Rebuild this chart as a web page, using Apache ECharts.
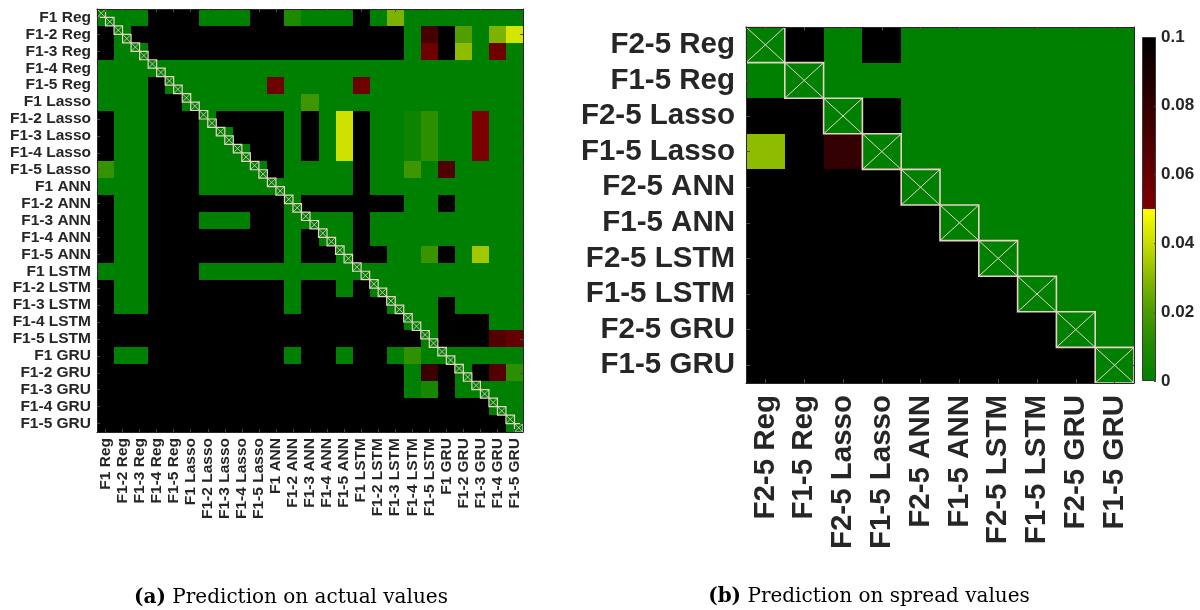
<!DOCTYPE html>
<html>
<head>
<meta charset="utf-8">
<script src="https://cdn.jsdelivr.net/npm/echarts@6.0.0/dist/echarts.min.js"></script>
<style>html,body{margin:0;padding:0;background:#fff}#c{width:1200px;height:610px}</style>
</head>
<body>
<div id="c"></div>
<script>
// ---- data ----
const leftCategories = ['F1 Reg','F1-2 Reg','F1-3 Reg','F1-4 Reg','F1-5 Reg',
  'F1 Lasso','F1-2 Lasso','F1-3 Lasso','F1-4 Lasso','F1-5 Lasso',
  'F1 ANN','F1-2 ANN','F1-3 ANN','F1-4 ANN','F1-5 ANN',
  'F1 LSTM','F1-2 LSTM','F1-3 LSTM','F1-4 LSTM','F1-5 LSTM',
  'F1 GRU','F1-2 GRU','F1-3 GRU','F1-4 GRU','F1-5 GRU'];
const rightCategories = ['F2-5 Reg','F1-5 Reg','F2-5 Lasso','F1-5 Lasso','F2-5 ANN',
  'F1-5 ANN','F2-5 LSTM','F1-5 LSTM','F2-5 GRU','F1-5 GRU'];
// p-values (0.1 = at or above the colour-scale maximum, drawn black)
const leftValues = [
 [0,0,0,.1,.1,.1,0,0,0,.1,.1,.01,0,0,0,.1,0,.028,0,0,0,0,0,0,0],
 [.1,0,.1,.1,.1,.1,.1,.1,.1,.1,.1,.1,.1,.1,.1,.1,.1,.1,0,.073,.1,.021,0,.028,.042],
 [.1,0,0,.1,.1,.1,.1,.1,.1,.1,.1,.1,.1,.1,.1,.1,.1,.1,0,.057,.1,.031,0,.057,0],
 [0,0,0,0,0,0,0,0,0,0,0,0,0,0,0,0,0,0,0,0,0,0,0,0,0],
 [0,0,0,.1,0,0,0,0,0,0,.057,0,0,0,0,.057,0,0,0,0,0,0,0,0,0],
 [0,0,0,.1,.1,0,0,0,0,0,0,0,.017,0,0,0,0,0,0,0,0,0,0,0,0],
 [.1,0,0,.1,.1,.1,0,.1,.1,.1,.1,0,.1,0,.041,.1,0,0,.004,.013,0,0,.052,0,0],
 [.1,0,0,.1,.1,.1,0,0,.1,.1,.1,0,.1,0,.041,.1,0,0,.004,.013,0,0,.052,0,0],
 [.1,0,0,.1,.1,.1,0,0,0,.1,.1,0,.1,0,.041,.1,0,0,.004,.013,0,0,.052,0,0],
 [.015,0,0,.1,.1,.1,0,0,0,0,.1,0,0,0,0,.1,0,0,.017,0,.069,0,0,0,0],
 [0,0,0,.1,.1,.1,0,0,0,0,0,0,0,0,0,.1,0,0,0,0,0,0,0,0,0],
 [.1,0,0,.1,.1,.1,.1,.1,.1,.1,.1,0,.1,.1,.1,.1,.1,.1,0,0,.1,0,0,0,0],
 [.1,0,0,.1,.1,.1,0,0,0,.1,.1,0,0,0,0,.1,0,0,0,0,0,0,0,0,0],
 [.1,0,0,.1,.1,.1,.1,.1,.1,.1,.1,0,.1,0,0,.1,0,0,0,0,0,0,0,0,0],
 [.1,0,0,.1,.1,.1,.1,.1,.1,.1,.1,0,.1,.1,0,.1,.1,0,0,.016,.1,0,.034,0,0],
 [0,0,0,.1,.1,.1,0,0,0,0,0,0,0,0,0,0,0,0,0,0,0,0,0,0,0],
 [.1,0,0,.1,.1,.1,.1,.1,.1,.1,.1,0,.1,.1,0,.1,0,0,0,0,0,0,0,0,0],
 [.1,0,0,.1,.1,.1,.1,.1,.1,.1,.1,0,.1,.1,.1,.1,.1,0,0,0,.1,0,0,0,0],
 [.1,.1,.1,.1,.1,.1,.1,.1,.1,.1,.1,.1,.1,.1,.1,.1,.1,.1,0,0,.1,.1,.1,0,0],
 [.1,.1,.1,.1,.1,.1,.1,.1,.1,.1,.1,.1,.1,.1,.1,.1,.1,.1,.1,0,.1,.1,.1,.067,.061],
 [.1,0,0,.1,.1,.1,.1,.1,.1,.1,.1,0,.1,.1,0,.1,.1,0,.014,0,0,0,0,0,0],
 [.1,.1,.1,.1,.1,.1,.1,.1,.1,.1,.1,.1,.1,.1,.1,.1,.1,.1,0,.077,.1,0,.1,.067,.013],
 [.1,.1,.1,.1,.1,.1,.1,.1,.1,.1,.1,.1,.1,.1,.1,.1,.1,.1,0,.007,.1,0,0,0,0],
 [.1,.1,.1,.1,.1,.1,.1,.1,.1,.1,.1,.1,.1,.1,.1,.1,.1,.1,.1,.1,.1,.1,.1,0,0],
 [.1,.1,.1,.1,.1,.1,.1,.1,.1,.1,.1,.1,.1,.1,.1,.1,.1,.1,.1,.1,.1,.1,.1,.1,0]
];
const rightValues = [
 [0,.1,0,.1,0,0,0,0,0,0],
 [0,0,0,0,0,0,0,0,0,0],
 [.1,.1,0,.1,0,0,0,0,0,0],
 [.031,.1,.08,0,0,0,0,0,0,0],
 [.1,.1,.1,.1,0,0,0,0,0,0],
 [.1,.1,.1,.1,.1,0,0,0,0,0],
 [.1,.1,.1,.1,.1,.1,0,0,0,0],
 [.1,.1,.1,.1,.1,.1,.1,0,0,0],
 [.1,.1,.1,.1,.1,.1,.1,.1,0,0],
 [.1,.1,.1,.1,.1,.1,.1,.1,.1,0]
];
const scaleMin = 0, scaleMax = 0.1, scaleStep = 0.02;
const captionA = 'Prediction on actual values';
const captionB = 'Prediction on spread values';

// ---- colour map (green -> yellow up to 0.05, dark red -> black above) ----
const gyStops = [[0,[0,128,0]],[0.01,[30,138,0]],[0.02,[75,155,0]],[0.03,[135,185,0]],[0.04,[200,222,0]],[0.05,[255,255,0]]];
function rgb(a){return 'rgb('+a.map(v=>Math.round(v)).join(',')+')';}
function colorAt(v){
  if (v <= 0.05) {
    for (let i=1;i<gyStops.length;i++){
      if (v <= gyStops[i][0] + 1e-12){
        const [v0,c0]=gyStops[i-1],[v1,c1]=gyStops[i];
        const t=(v-v0)/(v1-v0);
        return rgb(c0.map((c,k)=>c+(c1[k]-c)*t));
      }
    }
  }
  const t=(v-0.05)/0.05;
  return rgb([128*(1-t),0,0]);
}
const colorList=[];
for(let i=0;i<=100;i++) colorList.push(colorAt(i/1000));
const barStops = gyStops.map(s=>({offset:s[0]/0.1,color:rgb(s[1])}))
  .concat([{offset:0.5,color:'rgb(128,0,0)'},{offset:1,color:'rgb(0,0,0)'}]);

const leftData=[]; leftValues.forEach((row,r)=>row.forEach((v,c)=>leftData.push([c,r,v])));
const rightData=[]; rightValues.forEach((row,r)=>row.forEach((v,c)=>rightData.push([c,r,v])));
const leftDiag = leftCategories.map((_,i)=>[i,i]);
const rightDiag = rightCategories.map((_,i)=>[i,i]);

const FONT='Liberation Sans';
const TXT='#262626';
const MARK='#e8d2c8';

function crossBox(x0,y0,w,h,lw,lw2){
  return [
    {type:'rect',shape:{x:x0,y:y0,width:w,height:h},style:{fill:'none',stroke:MARK,lineWidth:lw}},
    {type:'line',shape:{x1:x0,y1:y0,x2:x0+w,y2:y0+h},style:{stroke:MARK,lineWidth:lw2}},
    {type:'line',shape:{x1:x0+w,y1:y0,x2:x0,y2:y0+h},style:{stroke:MARK,lineWidth:lw2}}
  ];
}
function cellRender(params, api){
  const c=api.coord([api.value(0),api.value(1)]);
  const s=api.size([1,1]);
  const x0=Math.round(c[0]-s[0]/2), x1=Math.round(c[0]+s[0]/2);
  const y0=Math.round(c[1]-s[1]/2), y1=Math.round(c[1]+s[1]/2);
  return {type:'rect',shape:{x:x0,y:y0,width:x1-x0,height:y1-y0},style:{fill:api.visual('color')}};
}

function catAxis(grid, cats, pos, showLabel, size, margin, rot, tickLen, inverse){
  return {
    type:'category', gridIndex:grid, data:cats, position:pos, inverse:!!inverse, z:5,
    axisLine:{show:true,lineStyle:{color:TXT,width:1}},
    axisTick:{show:true,inside:true,alignWithLabel:true,length:tickLen,lineStyle:{color:'#4a4a4a'}},
    axisLabel:{show:showLabel,interval:0,rotate:rot,margin:margin,fontFamily:FONT,fontWeight:'bold',fontSize:size,color:TXT},
    splitLine:{show:false}
  };
}

const chart = echarts.init(document.getElementById('c'));
chart.setOption({
  animation:false,
  backgroundColor:'#fff',
  grid:[
    {left:97,top:9,width:426,height:423,outerBoundsMode:'none',containLabel:false},
    {left:746,top:27,width:388,height:356,outerBoundsMode:'none',containLabel:false},
    {left:1142,top:37,width:14,height:344,outerBoundsMode:'none',containLabel:false}
  ],
  xAxis:[
    catAxis(0,leftCategories,'bottom',true,15.5,6,90,3),
    catAxis(0,leftCategories,'top',false,15.5,6,0,3),
    catAxis(1,rightCategories,'bottom',true,29.5,12,90,4),
    catAxis(1,rightCategories,'top',false,29.5,12,0,4),
    {type:'category',gridIndex:2,data:['scale'],show:false}
  ],
  yAxis:[
    catAxis(0,leftCategories,'left',true,15.5,6,0,3,true),
    catAxis(0,leftCategories,'right',false,15.5,6,0,3,true),
    catAxis(1,rightCategories,'left',true,29.5,11,0,4,true),
    catAxis(1,rightCategories,'right',false,29.5,11,0,4,true),
    {type:'value',gridIndex:2,position:'right',min:scaleMin,max:scaleMax,interval:scaleStep,z:5,
     axisLine:{show:false},splitLine:{show:false},
     axisTick:{show:true,inside:true,length:2,lineStyle:{color:'#4a4a4a'}},
     axisLabel:{margin:5,fontFamily:FONT,fontWeight:'bold',fontSize:17,color:TXT}}
  ],
  visualMap:{type:'continuous',show:false,min:scaleMin,max:scaleMax,seriesIndex:[0,1],dimension:2,inRange:{color:colorList}},
  series:[
    {type:'custom',xAxisIndex:0,yAxisIndex:0,data:leftData,encode:{x:0,y:1},renderItem:cellRender,silent:true,z:2},
    {type:'custom',xAxisIndex:2,yAxisIndex:2,data:rightData,encode:{x:0,y:1},renderItem:cellRender,silent:true,z:2},
    {type:'custom',xAxisIndex:0,yAxisIndex:0,data:leftDiag,z:4,silent:true,
     renderItem:function(params,api){
       const c=api.coord([api.value(0),api.value(1)]);
       const s=api.size([1,1]);
       const w=s[0]/2,h=s[1]/2;
       const ch=[].concat(
         crossBox(c[0]-w,c[1]-h,w,h,1.2,0.8),
         crossBox(c[0],c[1],w,h,1.2,0.8));
       return {type:'group',children:ch};
     }},
    {type:'custom',xAxisIndex:2,yAxisIndex:2,data:rightDiag,z:4,silent:true,
     renderItem:function(params,api){
       const c=api.coord([api.value(0),api.value(1)]);
       const s=api.size([1,1]);
       return {type:'group',children:crossBox(c[0]-s[0]/2,c[1]-s[1]/2,s[0],s[1],1.6,1)};
     }},
    {type:'bar',xAxisIndex:4,yAxisIndex:4,data:[scaleMax],barWidth:'100%',silent:true,
     itemStyle:{color:new echarts.graphic.LinearGradient(0,1,0,0,barStops),borderColor:'#3a3a3a',borderWidth:1}}
  ],
  graphic:[
    {type:'text',x:291,y:598,style:{text:'{b|(a)} '+captionA,textAlign:'center',align:'center',textVerticalAlign:'middle',verticalAlign:'middle',
      fontFamily:'DejaVu Serif',fontSize:20,fill:'#000',rich:{b:{fontFamily:'DejaVu Serif',fontWeight:'bold',fontSize:20,fill:'#000'}}}},
    {type:'text',x:869,y:597,style:{text:'{b|(b)} '+captionB,textAlign:'center',align:'center',textVerticalAlign:'middle',verticalAlign:'middle',
      fontFamily:'DejaVu Serif',fontSize:20,fill:'#000',rich:{b:{fontFamily:'DejaVu Serif',fontWeight:'bold',fontSize:20,fill:'#000'}}}}
  ]
});
</script>
</body>
</html>
